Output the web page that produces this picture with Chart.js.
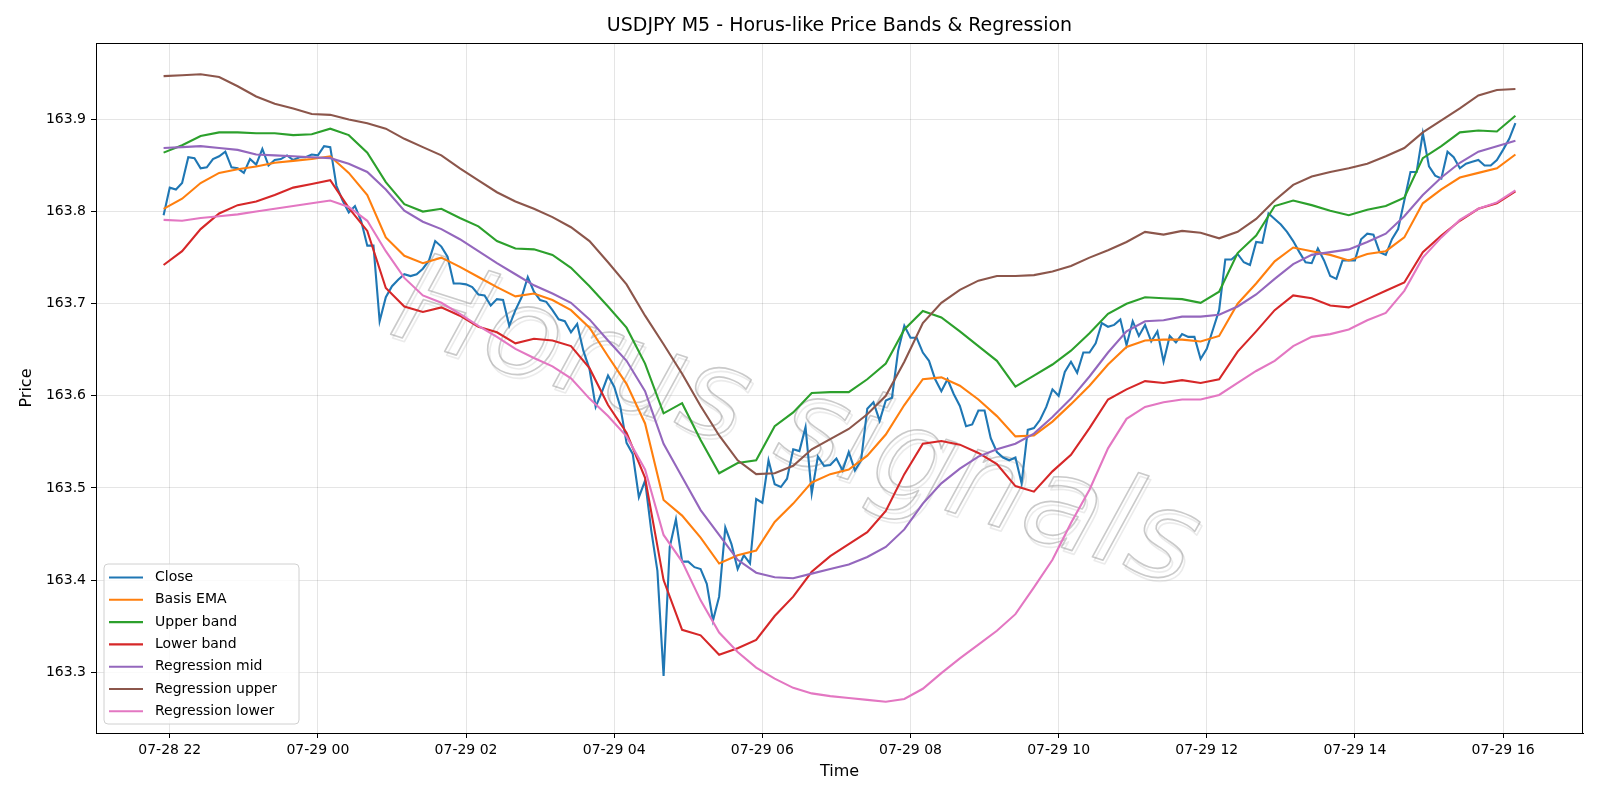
<!DOCTYPE html>
<html>
<head>
<meta charset="utf-8">
<title>USDJPY M5 - Horus-like Price Bands & Regression</title>
<script src="https://cdn.jsdelivr.net/npm/chart.js@4.4.0/dist/chart.umd.min.js"></script>
<style>
    html, body { margin: 0; padding: 0; background: #fff; }
    canvas { display: block; }
</style>
</head>
<body>
<canvas id="chart" width="1600" height="800"></canvas>
<script>
// time axis is in minutes after 07-28 22:00
var tickMinutes = [0, 120, 240, 360, 480, 600, 720, 840, 960, 1080];
var tickLabels = ['07-28 22', '07-29 00', '07-29 02', '07-29 04', '07-29 06', '07-29 08', '07-29 10', '07-29 12', '07-29 14', '07-29 16'];
var priceTicks = [163.3, 163.4, 163.5, 163.6, 163.7, 163.8, 163.9];

var firstMinute = -5;   // first bar 21:55
var closeStep = 5;      // M5 bars
var bandStep = 15;      // bands read every 15 min

var closePrice = [
    163.796, 163.826, 163.824, 163.831, 163.859, 163.858, 163.847, 163.848, 163.857, 163.860,
    163.865, 163.848, 163.847, 163.842, 163.857, 163.851, 163.868, 163.850, 163.856, 163.857,
    163.861, 163.856, 163.859, 163.859, 163.862, 163.861, 163.871, 163.870, 163.828, 163.812,
    163.799, 163.806, 163.790, 163.763, 163.763, 163.681, 163.707, 163.719, 163.726, 163.732,
    163.730, 163.732, 163.738, 163.747, 163.768, 163.762, 163.751, 163.722, 163.722, 163.721,
    163.718, 163.710, 163.709, 163.698, 163.705, 163.704, 163.676, 163.693, 163.707, 163.729,
    163.713, 163.704, 163.702, 163.693, 163.683, 163.681, 163.669, 163.678, 163.649, 163.629,
    163.588, 163.604, 163.622, 163.610, 163.588, 163.549, 163.537, 163.490, 163.508, 163.454,
    163.410, 163.296, 163.436, 163.466, 163.420, 163.420, 163.414, 163.412, 163.396, 163.356,
    163.382, 163.457, 163.439, 163.412, 163.427, 163.418, 163.488, 163.484, 163.530, 163.504,
    163.501, 163.510, 163.542, 163.540, 163.566, 163.494, 163.534, 163.524, 163.525, 163.532,
    163.519, 163.539, 163.519, 163.530, 163.586, 163.593, 163.573, 163.595, 163.598, 163.649,
    163.676, 163.663, 163.663, 163.647, 163.638, 163.618, 163.605, 163.618, 163.602, 163.589,
    163.567, 163.569, 163.584, 163.584, 163.554, 163.539, 163.533, 163.530, 163.533, 163.505,
    163.563, 163.565, 163.574, 163.588, 163.607, 163.600, 163.626, 163.637, 163.625, 163.647,
    163.647, 163.657, 163.679, 163.675, 163.677, 163.683, 163.655, 163.681, 163.665, 163.677,
    163.659, 163.670, 163.637, 163.665, 163.658, 163.667, 163.664, 163.664, 163.640, 163.651,
    163.672, 163.693, 163.748, 163.748, 163.754, 163.745, 163.742, 163.767, 163.766, 163.798,
    163.792, 163.786, 163.778, 163.768, 163.756, 163.745, 163.744, 163.760, 163.747, 163.730,
    163.727, 163.747, 163.747, 163.747, 163.770, 163.776, 163.775, 163.756, 163.753, 163.770,
    163.781, 163.812, 163.843, 163.843, 163.885, 163.849, 163.839, 163.836, 163.865, 163.859,
    163.847, 163.852, 163.854, 163.856, 163.850, 163.850, 163.856, 163.867, 163.879, 163.896
];

var basisEma = [
    163.803, 163.814, 163.831, 163.842, 163.846, 163.849, 163.853, 163.855, 163.857, 163.860,
    163.842, 163.818, 163.772, 163.752, 163.744, 163.750, 163.740, 163.729, 163.718, 163.708,
    163.711, 163.704, 163.693, 163.674, 163.643, 163.613, 163.570, 163.487, 163.470, 163.446,
    163.418, 163.427, 163.432, 163.463, 163.483, 163.506, 163.515, 163.520, 163.535, 163.558,
    163.590, 163.618, 163.620, 163.611, 163.596, 163.578, 163.556, 163.557, 163.572, 163.591,
    163.611, 163.634, 163.653, 163.660, 163.661, 163.661, 163.659, 163.665, 163.700, 163.722,
    163.746, 163.761, 163.757, 163.753, 163.747, 163.754, 163.757, 163.772, 163.809, 163.824,
    163.837, 163.842, 163.847, 163.862
];

var upperBand = [
    163.864, 163.872, 163.882, 163.886, 163.886, 163.885, 163.885, 163.883, 163.884, 163.890,
    163.883, 163.864, 163.832, 163.808, 163.800, 163.803, 163.793, 163.784, 163.768, 163.760,
    163.759, 163.753, 163.739, 163.719, 163.697, 163.674, 163.635, 163.581, 163.592, 163.552,
    163.516, 163.527, 163.530, 163.567, 163.582, 163.603, 163.604, 163.604, 163.618, 163.635,
    163.672, 163.692, 163.685, 163.670, 163.654, 163.638, 163.610, 163.622, 163.634, 163.649,
    163.668, 163.689, 163.700, 163.707, 163.706, 163.705, 163.701, 163.713, 163.755, 163.774,
    163.806, 163.812, 163.807, 163.801, 163.796, 163.802, 163.806, 163.815, 163.858, 163.871,
    163.886, 163.888, 163.887, 163.904
];

var lowerBand = [
    163.742, 163.757, 163.781, 163.798, 163.807, 163.811, 163.818, 163.826, 163.830, 163.834,
    163.804, 163.779, 163.717, 163.697, 163.691, 163.696, 163.687, 163.675, 163.669, 163.657,
    163.662, 163.660, 163.654, 163.630, 163.590, 163.560, 163.511, 163.400, 163.346, 163.340,
    163.319, 163.326, 163.335, 163.361, 163.382, 163.409, 163.426, 163.439, 163.452, 163.475,
    163.515, 163.548, 163.551, 163.547, 163.538, 163.526, 163.502, 163.496, 163.518, 163.536,
    163.565, 163.596, 163.607, 163.616, 163.614, 163.617, 163.614, 163.618, 163.648, 163.670,
    163.693, 163.709, 163.706, 163.698, 163.696, 163.705, 163.714, 163.723, 163.756, 163.774,
    163.790, 163.803, 163.809, 163.822
];

var regressionMid = [
    163.869, 163.870, 163.871, 163.869, 163.867, 163.862, 163.861, 163.860, 163.859, 163.858,
    163.852, 163.843, 163.824, 163.801, 163.789, 163.781, 163.770, 163.757, 163.744, 163.732,
    163.720, 163.711, 163.701, 163.683, 163.660, 163.638, 163.605, 163.548, 163.512, 163.476,
    163.449, 163.422, 163.408, 163.403, 163.402, 163.407, 163.412, 163.417, 163.425, 163.436,
    163.455, 163.483, 163.505, 163.521, 163.534, 163.542, 163.548, 163.559, 163.577, 163.597,
    163.621, 163.647, 163.670, 163.681, 163.682, 163.686, 163.686, 163.688, 163.697, 163.710,
    163.727, 163.743, 163.753, 163.756, 163.759, 163.767, 163.776, 163.795, 163.818, 163.837,
    163.853, 163.865, 163.871, 163.877
];

var regressionUpper = [
    163.947, 163.948, 163.949, 163.946, 163.936, 163.925, 163.917, 163.912, 163.906, 163.905,
    163.900, 163.896, 163.890, 163.879, 163.870, 163.861, 163.847, 163.834, 163.821, 163.811,
    163.803, 163.794, 163.783, 163.768, 163.745, 163.721, 163.687, 163.656, 163.624, 163.589,
    163.557, 163.530, 163.515, 163.516, 163.524, 163.542, 163.553, 163.564, 163.580, 163.600,
    163.637, 163.679, 163.701, 163.715, 163.725, 163.730, 163.730, 163.731, 163.735, 163.741,
    163.750, 163.758, 163.767, 163.778, 163.775, 163.779, 163.777, 163.771, 163.778, 163.792,
    163.812, 163.829, 163.838, 163.843, 163.847, 163.852, 163.860, 163.869, 163.886, 163.899,
    163.912, 163.926, 163.932, 163.933
];

var regressionLower = [
    163.791, 163.790, 163.793, 163.795, 163.797, 163.800, 163.803, 163.806, 163.809, 163.812,
    163.805, 163.790, 163.757, 163.728, 163.709, 163.701, 163.689, 163.676, 163.664, 163.651,
    163.641, 163.632, 163.619, 163.597, 163.578, 163.556, 163.520, 163.449, 163.420, 163.378,
    163.343, 163.322, 163.305, 163.293, 163.283, 163.277, 163.274, 163.272, 163.270, 163.268,
    163.271, 163.282, 163.299, 163.315, 163.330, 163.345, 163.363, 163.392, 163.422, 163.462,
    163.498, 163.543, 163.575, 163.588, 163.593, 163.596, 163.596, 163.601, 163.614, 163.627,
    163.638, 163.654, 163.664, 163.667, 163.672, 163.682, 163.690, 163.714, 163.750, 163.772,
    163.791, 163.803, 163.810, 163.823
];

var seriesNames = ['Close', 'Basis EMA', 'Upper band', 'Lower band', 'Regression mid', 'Regression upper', 'Regression lower'];
var seriesColors = ['#1f77b4', '#ff7f0e', '#2ca02c', '#d62728', '#9467bd', '#8c564b', '#e377c2'];

var FONT = '"DejaVu Sans", "Liberation Sans", sans-serif';

function toPoints(values, step) {
    return values.map(function(v, i) {
        return { x: firstMinute + i * step, y: v };
    });
}

var seriesData = [
    toPoints(closePrice, closeStep),
    toPoints(basisEma, bandStep),
    toPoints(upperBand, bandStep),
    toPoints(lowerBand, bandStep),
    toPoints(regressionMid, bandStep),
    toPoints(regressionUpper, bandStep),
    toPoints(regressionLower, bandStep)
];

// later series sit on top, like matplotlib
var datasets = seriesData.map(function(d, i) {
    return {
        label: seriesNames[i],
        data: d,
        borderColor: seriesColors[i],
        backgroundColor: seriesColors[i],
        borderWidth: 2.1,
        pointRadius: 0,
        tension: 0,
        fill: false,
        order: seriesNames.length - i
    };
});

// title, axis labels, frame, watermark and legend
var decorations = {
    id: 'decorations',
    beforeDatasetsDraw: function(chart) {
        var ctx = chart.ctx;
        var a = chart.chartArea;
        ctx.save();
        ctx.beginPath();
        ctx.rect(a.left, a.top, a.right - a.left, a.bottom - a.top);
        ctx.clip();
        ctx.translate(795, 428);
        ctx.rotate(17.6 * Math.PI / 180);
        ctx.font = 'italic 124px ' + FONT;
        ctx.textAlign = 'center';
        ctx.textBaseline = 'alphabetic';
        ctx.lineJoin = 'round';
        // soft offset shadow first, then the outline
        ctx.lineWidth = 1.6;
        ctx.strokeStyle = 'rgba(120,120,120,0.15)';
        ctx.strokeText('Horus signals', 3, 36);
        ctx.strokeStyle = 'rgba(150,150,150,0.5)';
        ctx.strokeText('Horus signals', 0, 33);
        ctx.restore();
    },
    afterDraw: function(chart) {
        var ctx = chart.ctx;
        var a = chart.chartArea;
        ctx.save();

        // axes frame
        ctx.strokeStyle = '#000';
        ctx.lineWidth = 1;
        ctx.strokeRect(a.left + 0.5, a.top + 0.5, a.right - a.left - 1, a.bottom - a.top);

        ctx.fillStyle = '#000';
        ctx.textAlign = 'center';
        ctx.textBaseline = 'middle';
        ctx.font = '19px ' + FONT;
        ctx.fillText('USDJPY M5 - Horus-like Price Bands & Regression', (a.left + a.right) / 2, 26);

        ctx.font = '16px ' + FONT;
        ctx.fillText('Time', (a.left + a.right) / 2, 772);
        ctx.save();
        ctx.translate(27, (a.top + a.bottom) / 2);
        ctx.rotate(-Math.PI / 2);
        ctx.fillText('Price', 0, 0);
        ctx.restore();

        // legend box
        var lx = 104, ly = 564, lw = 195, lh = 160, r = 4;
        ctx.beginPath();
        ctx.moveTo(lx + r, ly);
        ctx.arcTo(lx + lw, ly, lx + lw, ly + lh, r);
        ctx.arcTo(lx + lw, ly + lh, lx, ly + lh, r);
        ctx.arcTo(lx, ly + lh, lx, ly, r);
        ctx.arcTo(lx, ly, lx + lw, ly, r);
        ctx.closePath();
        ctx.fillStyle = 'rgba(255,255,255,0.8)';
        ctx.fill();
        ctx.strokeStyle = '#d0d0d0';
        ctx.stroke();

        ctx.textAlign = 'left';
        ctx.font = '14px ' + FONT;
        seriesNames.forEach(function(name, i) {
            var y = 577.5 + i * 22.3;
            ctx.strokeStyle = seriesColors[i];
            ctx.lineWidth = 2.1;
            ctx.beginPath();
            ctx.moveTo(109, y);
            ctx.lineTo(143, y);
            ctx.stroke();
            ctx.fillStyle = '#000';
            ctx.fillText(name, 155, y);
        });
        ctx.restore();
    }
};

var ctx = document.getElementById('chart').getContext('2d');
var chart = new Chart(ctx, {
    type: 'line',
    data: { datasets: datasets },
    options: {
        responsive: false,
        animation: false,
        devicePixelRatio: 1,
        layout: { padding: { left: 0, right: 17, top: 43, bottom: 0 } },
        plugins: {
            legend: { display: false },
            title: { display: false },
            tooltip: { enabled: false }
        },
        scales: {
            x: {
                type: 'linear',
                min: -59.75,
                max: 1144.75,
                afterBuildTicks: function(scale) {
                    scale.ticks = tickMinutes.map(function(v) { return { value: v }; });
                },
                afterFit: function(scale) { scale.height = 67; },
                ticks: {
                    autoSkip: false,
                    maxRotation: 0,
                    padding: 4,
                    color: '#000',
                    font: { family: FONT, size: 14 },
                    callback: function(value) {
                        return tickLabels[tickMinutes.indexOf(value)];
                    }
                },
                grid: { color: 'rgba(0,0,0,0.1)', tickColor: '#000', tickLength: 5, lineWidth: 1 },
                border: { color: '#000', width: 1 }
            },
            y: {
                type: 'linear',
                min: 163.234,
                max: 163.983,
                afterBuildTicks: function(scale) {
                    scale.ticks = priceTicks.map(function(v) { return { value: v }; });
                },
                afterFit: function(scale) { scale.width = 96; },
                ticks: {
                    padding: 5,
                    color: '#000',
                    font: { family: FONT, size: 14 },
                    callback: function(value) { return value.toFixed(1); }
                },
                grid: { color: 'rgba(0,0,0,0.1)', tickColor: '#000', tickLength: 5, lineWidth: 1 },
                border: { color: '#000', width: 1 }
            }
        }
    },
    plugins: [decorations]
});
</script>
</body>
</html>
